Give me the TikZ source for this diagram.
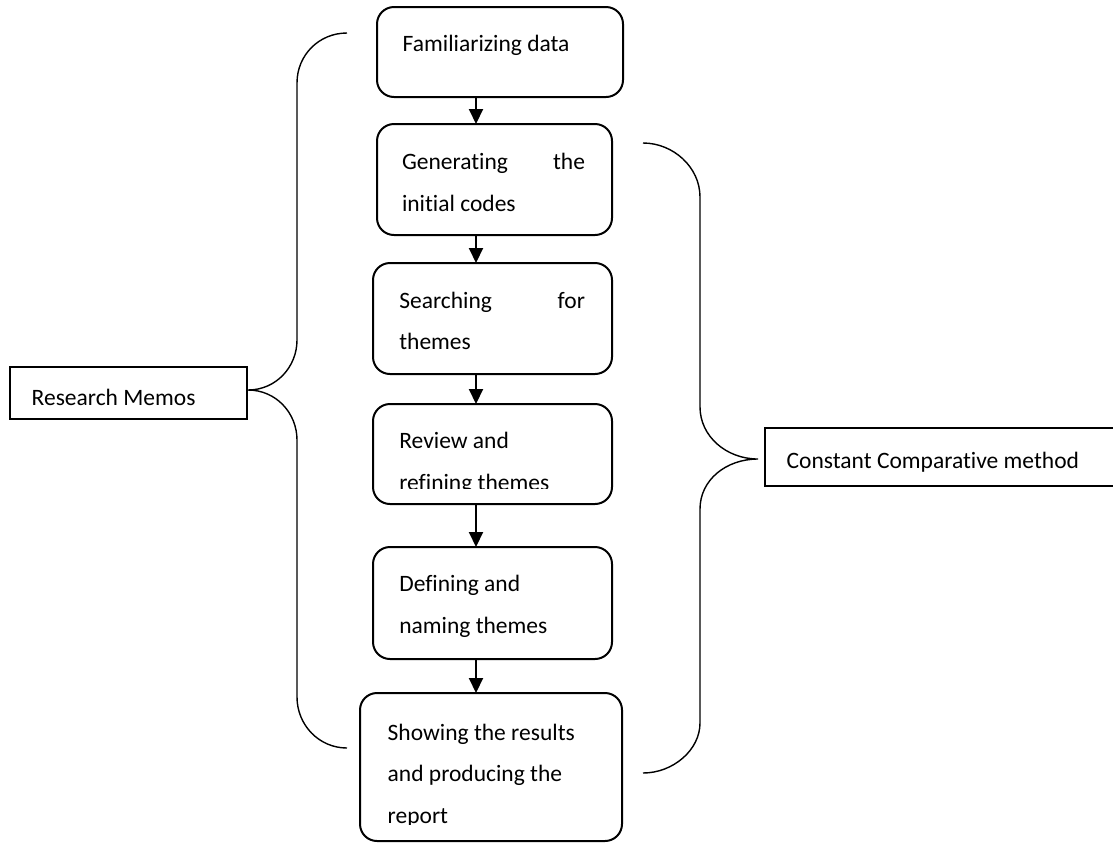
\documentclass[tikz,border=0pt]{standalone}
\usepackage{fontspec}
\setmainfont{Carlito}[Ligatures=NoCommon]
\usetikzlibrary{arrows.meta}
\begin{document}
\begin{tikzpicture}[x=0.5pt,y=-0.5pt,
  every node/.style={font=\fontsize{11.75}{14}\selectfont},
  stagebox/.style={draw, line width=1pt, rounded corners=8.5pt, inner sep=0pt, outer sep=0pt},
  labelbox/.style={draw, line width=0.9pt, inner sep=0pt, outer sep=0pt},
  txt/.style={inner sep=0pt, outer sep=0pt, anchor=base west},
  txtr/.style={inner sep=0pt, outer sep=0pt, anchor=base east},
  flow/.style={line width=1pt, -{Triangle[length=7.5pt,width=7pt]}},
  brace/.style={line width=0.7pt}]
\clip (0,0) rectangle (1113,842);

% stages of the analysis
\node[stagebox, minimum width=123pt, minimum height=45pt] (b1) at (500,52) {};
\node[stagebox, minimum width=117.5pt, minimum height=55.5pt] (b2) at (494.5,179.5) {};
\node[stagebox, minimum width=119.5pt, minimum height=55.5pt] (b3) at (492.5,318.5) {};
\node[stagebox, minimum width=119.5pt, minimum height=50pt] (b4) at (492.5,454) {};
\node[stagebox, minimum width=119.5pt, minimum height=56pt] (b5) at (492.5,603) {};
\node[stagebox, minimum width=131pt, minimum height=74pt] (b6) at (491,767) {};

% side labels
\node[labelbox, minimum width=118.5pt, minimum height=26pt] (rm) at (128.5,393) {};
\node[labelbox, minimum width=180pt, minimum height=29pt] (cc) at (945,457) {};

% texts
\node[txt] (t1) at (402.7,51.7) {Familiarizing data};
\node[txt] (t2a) at (402,169.3) {Generating};
\node[txtr] (t2b) at (585,169.3) {the};
\node[txt] (t2c) at (402,211.7) {initial codes};
\node[txt] (t3a) at (399.3,308.3) {Searching};
\node[txtr] (t3b) at (585,308.3) {for};
\node[txt] (t3c) at (399.3,349) {themes};
\node[txt] (t4a) at (399.3,448.3) {Review and};
\begin{scope}
  \clip (0,0) rectangle (1113,488.3);
  \node[txt] (t4b) at (399.3,490) {refining themes};
\end{scope}
\node[txt] (t5a) at (399.3,591.7) {Defining and};
\node[txt] (t5b) at (399.3,633.3) {naming themes};
\node[txt] (t6a) at (387.7,740) {Showing the results};
\node[txt] (t6b) at (387.7,781.7) {and producing the};
\begin{scope}
  \clip (0,0) rectangle (1113,824);
  \node[txt] (t6c) at (387.7,823.5) {report};
\end{scope}
\node[txt] (trm) at (31.7,405.7) {Research Memos};
\node[txt] (tcc) at (786.7,468) {Constant Comparative method};

% flow arrows
\coordinate (ax) at (476,0);
\draw[flow] (b1.south -| ax) -- (b2.north -| ax);
\draw[flow] (b2.south -| ax) -- (b3.north -| ax);
\draw[flow] (b3.south -| ax) -- (b4.north -| ax);
\draw[flow] (b4.south -| ax) -- (b5.north -| ax);
\draw[flow] (b5.south -| ax) -- (b6.north -| ax);

% left brace: research memos
\coordinate (lt) at (347,33);
\coordinate (lb) at (347,748);
\coordinate (ltip) at (248,390);
\draw[brace] (lt) .. controls (319,33) and (297,55) .. (297,83) -- (297,340)
  .. controls (297,367) and (276,390) .. (ltip)
  .. controls (276,390) and (297,413) .. (297,440) -- (297,697)
  .. controls (297,725) and (319,748) .. (lb);

% right brace: constant comparative method
\coordinate (rt) at (643,143);
\coordinate (rb) at (643,773);
\coordinate (rtip) at (758,459);
\draw[brace] (rt) .. controls (673,143) and (700,167) .. (700,197) -- (700,407)
  .. controls (700,436) and (726,459) .. (rtip)
  .. controls (726,459) and (700,480) .. (700,509) -- (700,723)
  .. controls (700,750) and (673,773) .. (rb);
\end{tikzpicture}
\end{document}
